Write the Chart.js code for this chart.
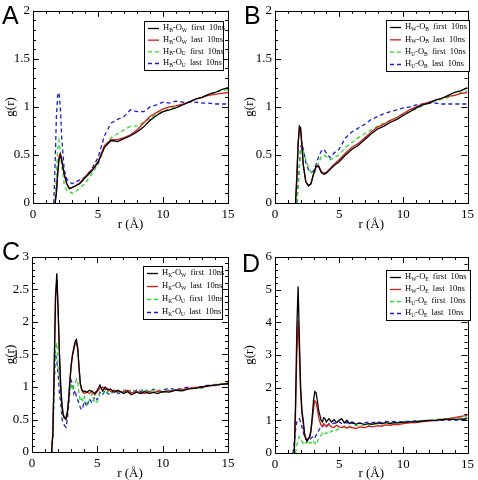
<!DOCTYPE html>
<html>
<head>
<meta charset="utf-8">
<script src="https://cdn.jsdelivr.net/npm/chart.js@4.4.1/dist/chart.umd.min.js"></script>
<style>
  html, body { margin: 0; padding: 0; background: #fff; }
  #wrap { position: relative; width: 478px; height: 480px; }
  canvas { position: absolute; }
</style>
</head>
<body>
<div id="wrap">
  <canvas id="cA" width="239" height="240" style="left:0;top:0"></canvas>
  <canvas id="cB" width="239" height="240" style="left:239px;top:0"></canvas>
  <canvas id="cC" width="239" height="240" style="left:0;top:240px"></canvas>
  <canvas id="cD" width="239" height="240" style="left:239px;top:240px"></canvas>
</div>
<script>
// ---- data ----
const legendA = ['H_B-O_W first 10ns', 'H_B-O_W last 10ns', 'H_B-O_U first 10ns', 'H_B-O_U last 10ns'];
const legendB = ['H_W-O_B first 10ns', 'H_W-O_B last 10ns', 'H_U-O_B first 10ns', 'H_U-O_B last 10ns'];
const legendC = ['H_K-O_W first 10ns', 'H_K-O_W last 10ns', 'H_K-O_U first 10ns', 'H_K-O_U last 10ns'];
const legendD = ['H_W-O_E first 10ns', 'H_W-O_E last 10ns', 'H_U-O_E first 10ns', 'H_U-O_E last 10ns'];

const rA = [1.6,1.7,1.8,1.9,2.0,2.1,2.2,2.4,2.6,2.8,3.0,3.3,3.6,4.0,4.5,5.0,5.5,6.0,6.5,7.0,7.5,8.0,8.5,9.0,9.5,10,10.5,11,11.5,12,12.5,13,13.5,14,14.5,15];
const aBlack = [null,0,0.1,0.3,0.45,0.5,0.45,0.3,0.2,0.15,0.16,0.18,0.2,0.26,0.33,0.42,0.58,0.65,0.64,0.67,0.7,0.74,0.79,0.86,0.91,0.95,0.97,0.99,1.02,1.05,1.08,1.1,1.13,1.15,1.18,1.2];
const aRed   = [null,0,0.12,0.32,0.48,0.52,0.46,0.3,0.2,0.15,0.16,0.18,0.21,0.27,0.34,0.43,0.6,0.66,0.66,0.68,0.71,0.76,0.83,0.9,0.94,0.98,1.0,1.01,1.03,1.05,1.08,1.1,1.12,1.13,1.14,1.15];
const aGreen = [null,0.05,0.3,0.55,0.65,0.55,0.4,0.2,0.13,0.12,0.1,0.12,0.16,0.2,0.3,0.4,0.58,0.68,0.72,0.76,0.8,0.8,0.84,0.88,0.92,0.96,0.98,1.0,1.02,1.05,1.08,1.1,1.13,1.15,1.17,1.18];
const aBlue  = [0,0.4,0.9,1.12,1.15,1.0,0.7,0.35,0.25,0.22,0.2,0.22,0.24,0.27,0.35,0.47,0.7,0.83,0.87,0.9,0.97,0.95,0.95,1.0,1.02,1.05,1.04,1.06,1.05,1.05,1.05,1.04,1.04,1.03,1.03,1.03];

const rB = [1.5,1.6,1.7,1.8,1.9,2.0,2.1,2.2,2.4,2.6,2.8,3.0,3.2,3.4,3.6,3.8,4.0,4.3,4.6,5.0,5.5,6.0,6.5,7.0,7.5,8.0,8.5,9.0,9.5,10,10.5,11,11.5,12,12.5,13,13.5,14,14.5,15];
const bBlack = [null,0,0.25,0.6,0.8,0.78,0.6,0.4,0.22,0.18,0.2,0.3,0.38,0.38,0.32,0.3,0.31,0.35,0.39,0.43,0.5,0.56,0.6,0.66,0.72,0.77,0.8,0.84,0.87,0.91,0.95,0.99,1.02,1.04,1.07,1.09,1.12,1.15,1.17,1.2];
const bRed   = [null,0,0.3,0.62,0.78,0.75,0.58,0.4,0.22,0.18,0.2,0.3,0.38,0.39,0.33,0.31,0.32,0.36,0.4,0.45,0.52,0.58,0.62,0.68,0.74,0.79,0.82,0.86,0.89,0.93,0.97,1.0,1.03,1.05,1.07,1.09,1.11,1.12,1.14,1.15];
const bGreen = [null,null,0,0.15,0.35,0.55,0.6,0.55,0.45,0.37,0.32,0.3,0.35,0.42,0.48,0.5,0.48,0.45,0.47,0.5,0.58,0.63,0.68,0.72,0.76,0.8,0.83,0.86,0.89,0.92,0.95,0.98,1.01,1.04,1.06,1.08,1.1,1.12,1.15,1.17];
const bBlue  = [null,null,0,0.2,0.4,0.58,0.62,0.56,0.42,0.35,0.32,0.33,0.4,0.48,0.54,0.56,0.52,0.47,0.52,0.56,0.68,0.74,0.78,0.82,0.87,0.9,0.93,0.95,0.97,0.99,1.0,1.02,1.03,1.04,1.04,1.03,1.03,1.03,1.03,1.03];

const rC = [1.5,1.6,1.7,1.8,1.9,2.0,2.1,2.2,2.3,2.4,2.5,2.6,2.7,2.8,2.9,3.0,3.1,3.2,3.3,3.4,3.5,3.6,3.7,3.8,3.9,4.0,4.2,4.4,4.6,4.8,5.0,5.2,5.4,5.6,5.8,6.0,6.3,6.6,7.0,7.3,7.6,8.0,8.3,8.6,9.0,9.3,9.6,10,10.5,11,11.5,12,12.5,13,13.5,14,14.5,15];
const cBlack = [0,0.3,1.3,2.4,2.75,2.2,1.5,1.0,0.7,0.55,0.52,0.5,0.6,0.8,1.1,1.35,1.5,1.6,1.7,1.73,1.6,1.3,1.05,0.97,0.93,0.94,0.92,0.95,0.93,0.9,0.95,1.03,0.94,1.0,0.95,0.97,0.92,0.95,0.9,0.93,0.88,0.92,0.9,0.93,0.9,0.92,0.9,0.93,0.92,0.95,0.94,0.97,0.98,1.0,1.02,1.03,1.04,1.05];
const cRed   = [0,0.3,1.3,2.35,2.65,2.15,1.5,1.0,0.72,0.58,0.53,0.52,0.6,0.8,1.08,1.32,1.48,1.58,1.66,1.68,1.58,1.3,1.05,0.95,0.92,0.9,0.92,0.9,0.94,0.88,0.93,0.98,1.0,0.96,0.98,0.93,0.95,0.93,0.92,0.95,0.91,0.93,0.92,0.9,0.93,0.91,0.94,0.92,0.94,0.95,0.96,0.98,0.99,1.0,1.01,1.03,1.04,1.06];
const cGreen = [0,0.2,1.0,1.6,1.68,1.3,1.15,0.9,0.6,0.55,0.5,0.55,0.6,0.8,0.95,1.05,0.95,1.0,1.05,1.12,1.08,0.9,0.78,0.82,0.78,0.85,0.72,0.8,0.9,0.75,0.78,0.9,0.95,0.88,0.93,0.9,0.95,0.92,0.96,0.9,0.97,0.92,0.95,0.97,0.93,0.95,0.97,0.93,0.96,0.95,0.97,0.98,1.0,0.98,1.02,1.04,1.05,1.07];
const cBlue  = [0,0.3,1.1,1.5,1.4,1.2,0.9,0.75,0.5,0.45,0.4,0.38,0.5,0.7,0.95,1.1,1.05,0.9,0.95,0.85,0.8,0.75,0.68,0.65,0.7,0.78,0.7,0.82,0.75,0.85,0.8,0.92,0.88,0.95,0.9,0.88,0.95,0.9,0.93,0.97,0.9,0.95,0.92,0.96,0.92,0.97,0.93,0.95,0.98,0.96,0.98,1.0,0.98,1.01,1.03,1.02,1.05,1.05];

const rD = [1.4,1.5,1.6,1.7,1.8,1.9,2.0,2.1,2.2,2.3,2.4,2.5,2.6,2.7,2.8,2.9,3.0,3.1,3.2,3.3,3.4,3.5,3.6,3.7,3.8,3.9,4.0,4.2,4.4,4.6,4.8,5.0,5.2,5.4,5.6,5.8,6.0,6.3,6.6,7.0,7.3,7.6,8.0,8.3,8.6,9.0,9.3,9.6,10,10.5,11,11.5,12,12.5,13,13.5,14,14.5,15];
const dBlack = [null,0,1.5,3.8,5.1,3.5,2.0,1.3,1.0,0.6,0.45,0.35,0.45,0.5,0.7,1.1,1.6,1.88,1.85,1.6,1.3,1.15,1.0,0.95,1.08,1.05,0.95,1.05,0.95,1.02,0.93,1.0,1.05,0.92,1.0,0.9,0.95,0.88,0.92,0.87,0.9,0.88,0.92,0.9,0.93,0.9,0.93,0.92,0.94,0.95,0.95,0.98,1.0,1.0,1.02,1.03,1.03,1.04,1.05];
const dRed   = [null,0,1.2,3.0,4.05,3.0,1.8,1.2,0.9,0.55,0.42,0.4,0.42,0.48,0.65,1.0,1.35,1.6,1.55,1.35,1.1,0.95,0.85,0.82,0.9,0.85,0.8,0.88,0.8,0.78,0.85,0.8,0.78,0.82,0.76,0.8,0.78,0.75,0.8,0.78,0.82,0.8,0.84,0.82,0.86,0.85,0.88,0.87,0.9,0.92,0.93,0.96,0.98,1.0,1.03,1.05,1.08,1.12,1.15];
const dGreen = [null,null,0,0.25,0.4,0.5,0.45,0.35,0.3,0.35,0.3,0.38,0.4,0.3,0.32,0.28,0.35,0.3,0.25,0.35,0.45,0.5,0.55,0.6,0.55,0.6,0.62,0.58,0.68,0.65,0.7,0.75,0.78,0.8,0.76,0.82,0.8,0.85,0.82,0.87,0.85,0.88,0.9,0.88,0.92,0.92,0.95,0.93,0.96,0.97,0.97,1.0,1.0,1.02,1.05,1.05,1.07,1.08,1.1];
const dBlue  = [0,0.3,0.7,0.95,1.02,1.05,0.95,0.8,0.65,0.5,0.45,0.4,0.42,0.38,0.45,0.48,0.5,0.45,0.55,0.6,0.68,0.75,0.82,0.8,0.88,0.85,0.82,0.9,0.88,0.92,0.9,0.95,0.9,0.95,0.92,0.95,0.9,0.93,0.9,0.92,0.95,0.93,0.96,0.93,0.97,0.95,0.97,0.95,0.96,0.97,0.98,0.97,1.0,0.99,1.0,1.01,1.0,1.02,1.02];

// ---- styling ----
const lineColors = ['#000000', '#e01818', '#22e022', '#1818f0'];
const lineDashes = [[], [], [4, 3], [4, 3]];
const serif = '"Liberation Serif", "DejaVu Serif", serif';

function makeDatasets(r, series, labels) {
    return series.map((vals, i) => ({
        label: labels[i],
        data: r.map((x, k) => ({ x, y: vals[k] })),
        borderColor: lineColors[i],
        borderDash: lineDashes[i],
        borderWidth: 1.3,
        pointRadius: 0,
        fill: false,
        tension: 0,
        spanGaps: false
    }));
}

// text with "_X" = subscript X
function drawRichText(ctx, str, x, y, size) {
    let cx = x;
    for (let i = 0; i < str.length; i++) {
        let ch = str[i];
        if (ch === '_' && i + 1 < str.length) {
            i++;
            ch = str[i];
            ctx.font = (size * 0.65) + 'px ' + serif;
            ctx.fillText(ch, cx, y + size * 0.3);
        } else {
            ctx.font = size + 'px ' + serif;
            ctx.fillText(ch, cx, y);
        }
        cx += ctx.measureText(ch).width;
        if (ch === ' ') cx += 2;
    }
}

const framePlugin = {
    id: 'frame',
    afterDatasetsDraw(chart, args, opts) {
        const ctx = chart.ctx;
        const { left, right, top, bottom } = chart.chartArea;
        const xs = chart.scales.x, ys = chart.scales.y;
        ctx.save();
        ctx.strokeStyle = '#000';
        ctx.lineWidth = 1;
        ctx.setLineDash([]);
        ctx.strokeRect(Math.round(left) + 0.5, Math.round(top) + 0.5, Math.round(right - left), Math.round(bottom - top));

        ctx.beginPath();
        // x ticks, inward, top and bottom
        for (let v = xs.min; v <= xs.max + 1e-9; v += opts.xMinor) {
            const major = Math.abs(v / opts.xMajor - Math.round(v / opts.xMajor)) < 1e-6;
            const len = major ? 6 : 3;
            const px = Math.round(xs.getPixelForValue(v)) + 0.5;
            ctx.moveTo(px, bottom); ctx.lineTo(px, bottom - len);
            ctx.moveTo(px, top); ctx.lineTo(px, top + len);
        }
        for (let v = ys.min; v <= ys.max + 1e-9; v += opts.yMinor) {
            const major = Math.abs(v / opts.yMajor - Math.round(v / opts.yMajor)) < 1e-6;
            const len = major ? 6 : 3;
            const py = Math.round(ys.getPixelForValue(v)) + 0.5;
            ctx.moveTo(left, py); ctx.lineTo(left + len, py);
            ctx.moveTo(right, py); ctx.lineTo(right - len, py);
        }
        ctx.stroke();

        // legend box
        const b = opts.box;
        ctx.fillStyle = '#fff';
        ctx.fillRect(b.x, b.y, b.w, b.h);
        ctx.strokeRect(b.x + 0.5, b.y + 0.5, b.w, b.h);
        const pitch = (b.h - 14) / 3;
        chart.data.datasets.forEach((ds, i) => {
            const y = b.y + 7 + i * pitch;
            ctx.beginPath();
            ctx.strokeStyle = ds.borderColor;
            ctx.lineWidth = 1.3;
            ctx.setLineDash(ds.borderDash);
            ctx.moveTo(b.x + 4, y + 0.5);
            ctx.lineTo(b.x + 15, y + 0.5);
            ctx.stroke();
            ctx.setLineDash([]);
            ctx.fillStyle = '#000';
            ctx.textBaseline = 'middle';
            ctx.textAlign = 'left';
            drawRichText(ctx, ds.label, b.x + 19, y, 8.5);
        });

        // panel letter
        ctx.fillStyle = '#000';
        ctx.textBaseline = 'alphabetic';
        ctx.font = '25px "Liberation Sans", Arial, sans-serif';
        ctx.fillText(opts.letter, opts.letterX, opts.letterY);
        ctx.restore();
    }
};

const fmt = v => String(Math.round(v * 100) / 100);

function makePanel(id, cfg) {
    const ctx = document.getElementById(id).getContext('2d');
    return new Chart(ctx, {
        type: 'line',
        data: { datasets: makeDatasets(cfg.r, cfg.series, cfg.labels) },
        plugins: [framePlugin],
        options: {
            responsive: false,
            animation: false,
            layout: { padding: { top: cfg.area.top, right: cfg.area.right, left: 0, bottom: 0 } },
            plugins: {
                legend: { display: false },
                tooltip: { enabled: false },
                frame: {
                    xMajor: 5, xMinor: 1, yMajor: cfg.yStep, yMinor: cfg.yMinor,
                    box: cfg.box, letter: cfg.letter, letterX: cfg.letterX, letterY: cfg.letterY
                }
            },
            scales: {
                x: {
                    type: 'linear',
                    min: 0, max: 15,
                    grid: { display: false, drawTicks: false },
                    border: { display: false },
                    ticks: { stepSize: 5, padding: 4, color: '#000', font: { family: serif, size: 13 }, callback: fmt },
                    title: { display: true, text: 'r (Å)', color: '#000', font: { family: serif, size: 13, lineHeight: 1 }, padding: { top: 0, bottom: cfg.xTitlePad } },
                    afterFit(scale) { scale.height = cfg.area.xh; }
                },
                y: {
                    min: 0, max: cfg.yMax,
                    grid: { display: false, drawTicks: false },
                    border: { display: false },
                    ticks: { stepSize: cfg.yStep, padding: 3, color: '#000', font: { family: serif, size: 13 }, callback: fmt },
                    title: { display: true, text: 'g(r)', color: '#000', font: { family: serif, size: 13, lineHeight: 1 }, padding: { top: 4, bottom: 0 } },
                    afterFit(scale) { scale.width = cfg.area.yw; }
                }
            }
        }
    });
}

makePanel('cA', {
    r: rA, series: [aBlack, aRed, aGreen, aBlue], labels: legendA,
    yMax: 2, yStep: 0.5, yMinor: 0.1,
    area: { top: 10, right: 11, xh: 37, yw: 33 }, xTitlePad: 9,
    box: { x: 144, y: 21, w: 79, h: 49 }, letter: 'A', letterX: 2, letterY: 24
});
makePanel('cB', {
    r: rB, series: [bBlack, bRed, bGreen, bBlue], labels: legendB,
    yMax: 2, yStep: 0.5, yMinor: 0.1,
    area: { top: 10, right: 7, xh: 37, yw: 36 }, xTitlePad: 9,
    box: { x: 147, y: 20, w: 83, h: 51 }, letter: 'B', letterX: 5, letterY: 24
});
makePanel('cC', {
    r: rC, series: [cBlack, cRed, cGreen, cBlue], labels: legendC,
    yMax: 3, yStep: 0.5, yMinor: 0.1,
    area: { top: 17, right: 11, xh: 28, yw: 32 }, xTitlePad: 0,
    box: { x: 143, y: 26, w: 79, h: 53 }, letter: 'C', letterX: 2, letterY: 20
});
makePanel('cD', {
    r: rD, series: [dBlack, dRed, dGreen, dBlue], labels: legendD,
    yMax: 6, yStep: 1, yMinor: 0.2,
    area: { top: 17, right: 8, xh: 27, yw: 36 }, xTitlePad: 0,
    box: { x: 147, y: 30, w: 84, h: 50 }, letter: 'D', letterX: 3, letterY: 32
});
</script>
</body>
</html>
